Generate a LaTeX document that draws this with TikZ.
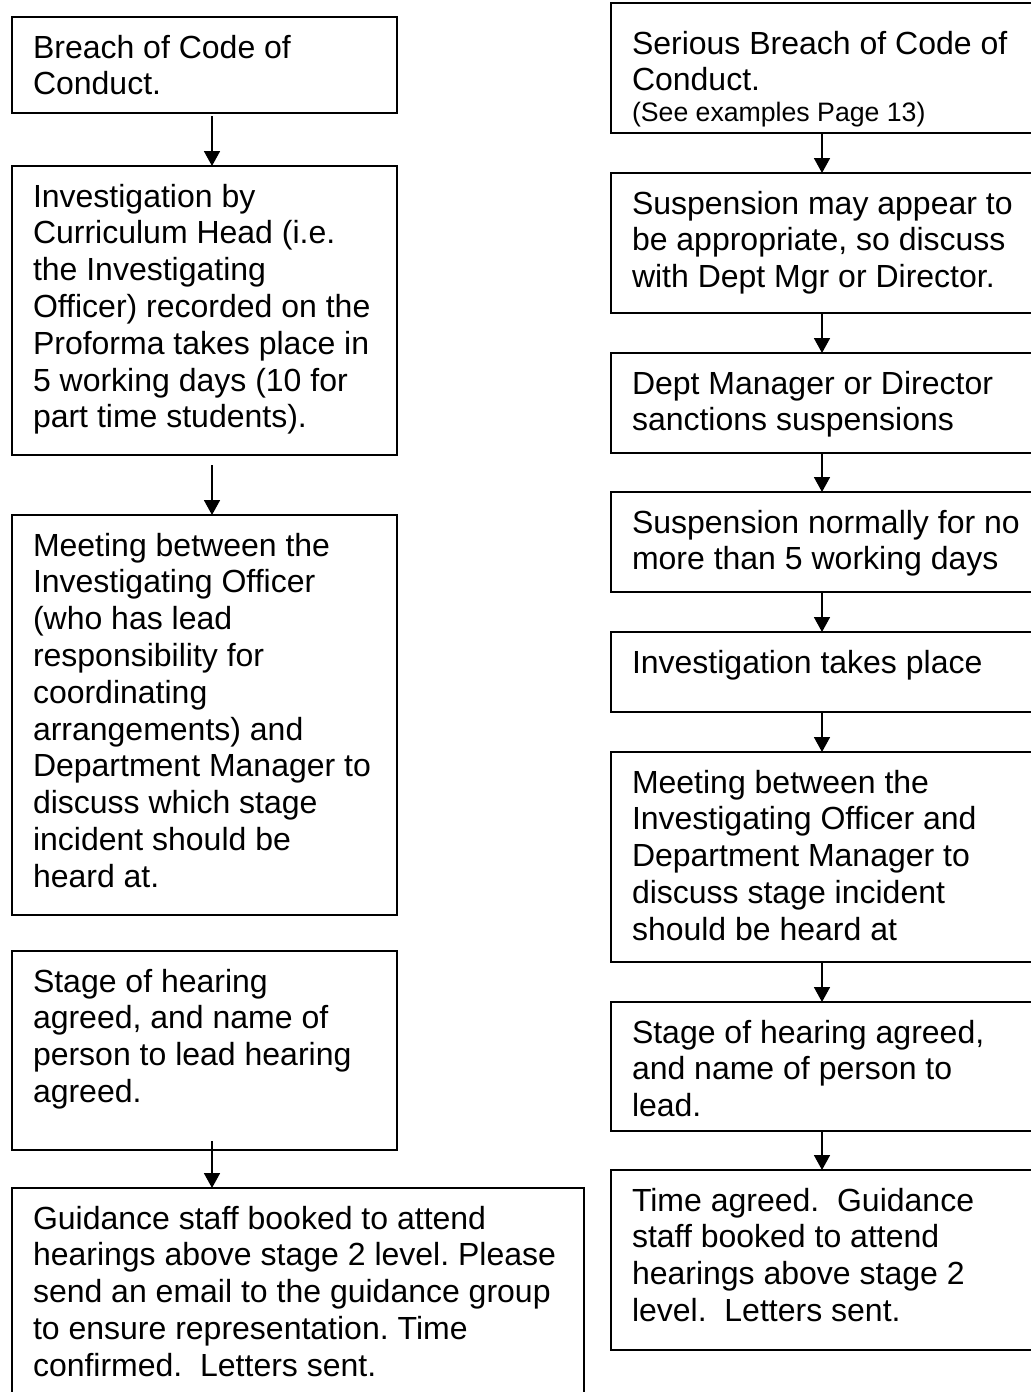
\documentclass[tikz,border=0pt]{standalone}
\usepackage{fontspec}
\setmainfont{Liberation Sans}
\usetikzlibrary{arrows.meta,backgrounds,calc}
\begin{document}
\begin{tikzpicture}[x=0.75pt,y=-0.75pt,
  fbox/.style={draw, fill=white, anchor=north west, inner xsep=15.75pt, inner ysep=0pt,
    outer sep=0pt, align=flush left, font=\fontsize{24pt}{27.6pt}\selectfont\frenchspacing, text height=30.75pt},
  lbox/.style={fbox, line width=1.95pt, text width=257.25pt},
  wbox/.style={fbox, line width=1.95pt, text width=397.5pt},
  rbox/.style={fbox, line width=1.35pt, text width=298.5pt},
  arr/.style={line width=1.35pt, -{Triangle[length=11.25pt,width=12pt]}}]
\useasboundingbox (0,0) rectangle (1031,1392);
\fill[white] (0,0) rectangle (1031,1392);

\coordinate (cl) at (212,0);
\coordinate (cr) at (822,0);

% left column
\node[lbox, text depth=41.25pt] (L1) at (12,17) {Breach of Code of\\Conduct.};
\node[lbox, text depth=186pt] (L2) at (12,166) {Investigation by\\Curriculum Head (i.e.\\the Investigating\\Officer) recorded on the\\Proforma takes place in\\5 working days (10 for\\part time students).};
\node[lbox, text depth=269.25pt] (L3) at (12,515) {Meeting between the\\Investigating Officer\\(who has lead\\responsibility for\\coordinating\\arrangements) and\\Department Manager to\\discuss which stage\\incident should be\\heard at.};
\node[lbox, text depth=118.5pt] (L4) at (12,951) {Stage of hearing\\agreed, and name of\\person to lead hearing\\agreed.};
\node[wbox, text depth=130pt] (L5) at (12,1188) {\mbox{Guidance staff booked to attend}\\\mbox{hearings above stage 2 level. Please}\\\mbox{send an email to the guidance group}\\\mbox{to ensure representation. Time}\\\mbox{confirmed.\ \ Letters sent.}};

% right column
\node[rbox, text height=38.25pt, text depth=59.25pt] (R1) at (611,3) {Serious Breach of Code of\\Conduct.\\[-4.5pt]{\fontsize{20pt}{24pt}\selectfont (See examples Page 13)}};
\node[rbox, text depth=74.25pt] (R2) at (611,173) {Suspension may appear to\\be appropriate, so discuss\\with Dept Mgr or Director.};
\node[rbox, text depth=44.25pt] (R3) at (611,353) {Dept Manager or Director\\sanctions suspensions};
\node[rbox, text depth=44.25pt] (R4) at (611,492) {Suspension normally for no\\more than 5 working days};
\node[rbox, text depth=29.25pt] (R5) at (611,632) {Investigation takes place};
\node[rbox, text depth=126.75pt] (R6) at (611,752) {Meeting between the\\Investigating Officer and\\Department Manager to\\discuss stage incident\\should be heard at};
\node[rbox, text depth=66pt] (R7) at (611,1002) {Stage of hearing agreed,\\and name of person to\\lead.};
\node[rbox, text depth=104.25pt] (R8) at (611,1170) {Time agreed.\ \ Guidance\\staff booked to attend\\hearings above stage 2\\level.\ \ Letters sent.};

% left arrows
\draw[arr] ($(L1.south -| cl)+(0,3)$) -- (L2.north -| cl);
\draw[arr] ($(L2.south -| cl)+(0,10)$) -- (L3.north -| cl);
\begin{scope}[on background layer]
\draw[arr] (L3.south -| cl) -- ($(L4.north -| cl)+(0,6)$);
\end{scope}
\draw[arr] ($(L4.south -| cl)+(0,-9)$) -- (L5.north -| cl);

% right arrows
\draw[arr] (R1.south -| cr) -- (R2.north -| cr);
\draw[arr] (R2.south -| cr) -- (R3.north -| cr);
\draw[arr] (R3.south -| cr) -- (R4.north -| cr);
\draw[arr] (R4.south -| cr) -- (R5.north -| cr);
\draw[arr] (R5.south -| cr) -- (R6.north -| cr);
\draw[arr] (R6.south -| cr) -- (R7.north -| cr);
\draw[arr] (R7.south -| cr) -- (R8.north -| cr);
\end{tikzpicture}
\end{document}
